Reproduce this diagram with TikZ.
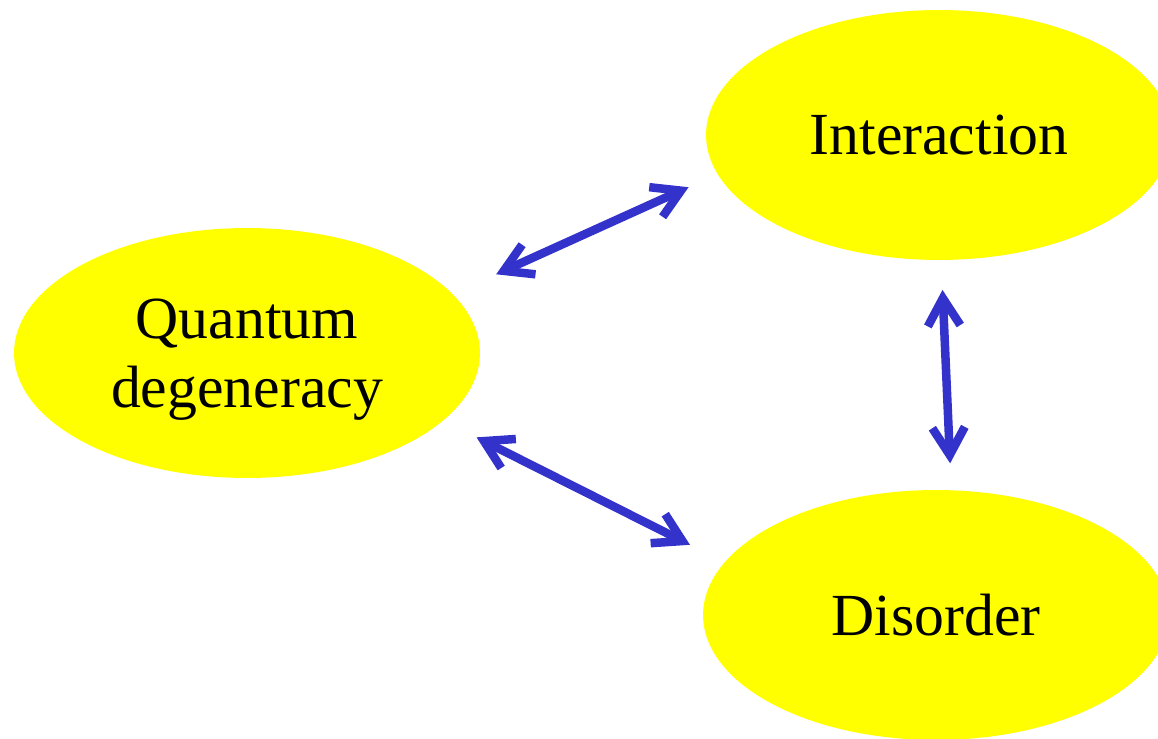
\documentclass[tikz,border=0pt]{standalone}
\usepackage{fontspec}
\setmainfont{Liberation Serif}
\usetikzlibrary{arrows.meta,shapes.geometric}
\definecolor{bubbleyellow}{HTML}{FFFF00}
\definecolor{linkblue}{HTML}{3333CC}
\tikzset{
  bubble/.style={
    ellipse, fill=bubbleyellow, draw=none,
    minimum width=9.32cm, minimum height=5.0cm,
    inner sep=0pt, outer sep=0pt, align=center,
    text depth=0pt,
    font=\fontsize{34}{39}\selectfont
  },
  twoway/.style={
    {Straight Barb[length=5.5mm, width=6.5mm]}-{Straight Barb[length=5.5mm, width=6.5mm]},
    line width=0.17cm, linkblue
  }
}

\begin{document}
\begin{tikzpicture}[x=0.02cm, y=-0.02cm]
  \useasboundingbox (0,0) rectangle (1158,739);
  \clip (0,0) rectangle (1158,739);

  % the three ellipses
  \node[bubble] (quantum)  at (247,353) {Quantum\\degeneracy};
  \node[bubble] (inter)    at (939,135) {Interaction};
  \node[bubble] (disorder) at (936,615) {Disorder};

  % two-way links
  \draw[twoway, shorten <=0.96cm, shorten >=0.64cm] (quantum.16) -- (inter.190);
  \draw[twoway, shorten <=0.6cm, shorten >=0.54cm] (inter.-89) -- (disorder.83);
  \draw[twoway, shorten <=0.75cm, shorten >=0.78cm] (quantum.-19) -- (disorder.166);
\end{tikzpicture}
\end{document}
